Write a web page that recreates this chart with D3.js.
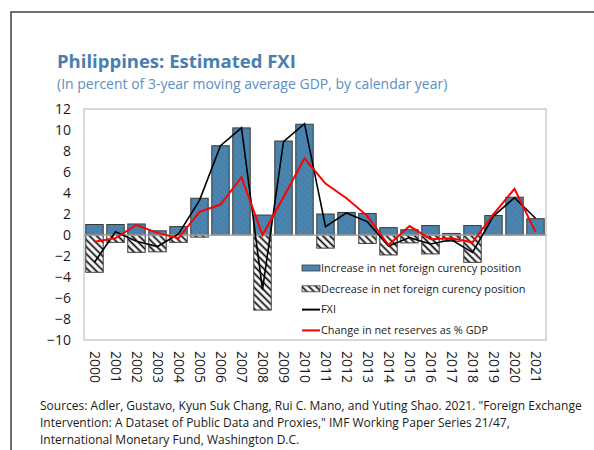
<!DOCTYPE html>
<html>
<head>
<meta charset="utf-8">
<script src="https://cdn.jsdelivr.net/npm/d3@7"></script>
<style>
  body { margin: 0; background: #fff; }
  svg { display: block; font-family: "Open Sans", "Noto Sans", sans-serif; }
</style>
</head>
<body>
<svg width="594" height="450"></svg>
<script>
// data
var years = ["2000","2001","2002","2003","2004","2005","2006","2007","2008","2009","2010",
             "2011","2012","2013","2014","2015","2016","2017","2018","2019","2020","2021"];
var increase = [1.0, 1.0, 1.05, 0.4, 0.8, 3.5, 8.5, 10.2, 1.9, 8.95, 10.55,
                2.0, 2.15, 2.05, 0.7, 0.5, 0.9, 0.15, 0.9, 1.85, 3.6, 1.55];
var decrease = [-3.55, -0.7, -1.65, -1.6, -0.7, -0.2, 0, 0, -7.15, 0, 0,
                -1.25, 0, -0.8, -1.9, -0.75, -1.8, -0.6, -2.6, 0, 0, 0];
var fxi = [-2.6, 0.3, -0.6, -1.1, 0.1, 3.3, 8.5, 10.2, -5.2, 8.9, 10.6,
           0.8, 2.1, 1.25, -1.05, -0.25, -0.85, -0.45, -1.65, 1.8, 3.55, 1.6];
var reserves = [-0.65, -0.3, 0.95, 0.2, -0.3, 2.2, 2.9, 5.5, 0.0, 3.6, 7.3,
                4.9, 3.5, 1.8, -0.95, 0.85, -0.4, -0.3, -0.7, 2.0, 4.4, 0.3];
var yTicks = [-10, -8, -6, -4, -2, 0, 2, 4, 6, 8, 10, 12];
var legendLabels = ["Increase in net foreign curency position",
                    "Decrease in net foreign curency position",
                    "FXI",
                    "Change in net reserves as % GDP"];

var svg = d3.select("svg");

// plot area
var plot = {left: 84, right: 546, top: 109, bottom: 340};

var x = d3.scaleBand().domain(years).range([plot.left, plot.right]).paddingInner(0.17).paddingOuter(0.085);
var y = d3.scaleLinear().domain([-10, 12]).range([plot.bottom, plot.top]);

// hatch pattern for the decrease bars
var defs = svg.append("defs");
defs.append("pattern")
    .attr("id", "hatch")
    .attr("patternUnits", "userSpaceOnUse")
    .attr("width", 5).attr("height", 5)
    .attr("patternTransform", "rotate(-45)")
  .call(function(p) {
    p.append("rect").attr("width", 5).attr("height", 5).attr("fill", "#fff");
    p.append("line").attr("x1", 1.5).attr("y1", 0).attr("x2", 1.5).attr("y2", 5)
      .attr("stroke", "#000").attr("stroke-width", 1.7);
  });
defs.append("pattern")
    .attr("id", "blue")
    .attr("patternUnits", "userSpaceOnUse")
    .attr("width", 4).attr("height", 4)
    .attr("patternTransform", "rotate(-45)")
  .call(function(p) {
    p.append("rect").attr("width", 4).attr("height", 4).attr("fill", "#4b86b0");
    p.append("line").attr("x1", 1).attr("y1", 0).attr("x2", 1).attr("y2", 4)
      .attr("stroke", "#4279a2").attr("stroke-width", 1);
  });

// outer frame
svg.append("path")
    .attr("d", "M594,12H11V450")
    .attr("fill", "none")
    .attr("stroke", "#404040")
    .attr("stroke-width", 1.5);

// titles
svg.append("text")
    .attr("x", 57).attr("y", 68)
    .style("font-size", "18.5px").style("font-weight", "bold")
    .attr("fill", "#4a7eb0")
    .text("Philippines: Estimated FXI");
svg.append("text")
    .attr("x", 57).attr("y", 89)
    .style("font-size", "14px")
    .attr("fill", "#5b8fc4")
    .text("(In percent of 3-year moving average GDP, by calendar year)");

// plot border
svg.append("rect")
    .attr("x", plot.left).attr("y", plot.top)
    .attr("width", plot.right - plot.left).attr("height", plot.bottom - plot.top)
    .attr("fill", "#fff").attr("stroke", "#bfbfbf").attr("stroke-width", 1.2);

// y axis labels
var yAxis = svg.append("g")
    .attr("transform", "translate(" + plot.left + ",0)")
    .call(d3.axisLeft(y).tickValues(yTicks).tickSize(0).tickPadding(13));
yAxis.select(".domain").remove();
yAxis.selectAll("text").style("font-size", "14px").attr("fill", "#1a1a1a")
    .style("font-family", "'Open Sans', sans-serif");

// bars
var bw = x.bandwidth();
svg.append("g").selectAll("rect")
    .data(years)
  .enter().append("rect")
    .attr("x", function(d) { return x(d); })
    .attr("width", bw)
    .attr("y", function(d, i) { return y(increase[i]); })
    .attr("height", function(d, i) { return y(0) - y(increase[i]); })
    .attr("fill", "url(#blue)")
    .attr("stroke", "#3a3a3a").attr("stroke-width", 1);

svg.append("g").selectAll("rect")
    .data(years.filter(function(d, i) { return decrease[i] < 0; }))
  .enter().append("rect")
    .attr("x", function(d) { return x(d); })
    .attr("width", bw)
    .attr("y", y(0))
    .attr("height", function(d) { return y(decrease[years.indexOf(d)]) - y(0); })
    .attr("fill", "url(#hatch)")
    .attr("stroke", "#3a3a3a").attr("stroke-width", 1);

// zero line
svg.append("line")
    .attr("x1", plot.left).attr("x2", plot.right)
    .attr("y1", y(0)).attr("y2", y(0))
    .attr("stroke", "#a6a6a6").attr("stroke-width", 1.5);

// lines
var cx = function(d, i) { return x(years[i]) + bw / 2; };
svg.append("path")
    .datum(fxi)
    .attr("fill", "none").attr("stroke", "#000").attr("stroke-width", 1.6)
    .attr("d", d3.line().x(cx).y(function(d) { return y(d); }));
svg.append("path")
    .datum(reserves)
    .attr("fill", "none").attr("stroke", "#ff0000").attr("stroke-width", 2)
    .attr("d", d3.line().x(cx).y(function(d) { return y(d); }));

// x labels, rotated
svg.append("g").selectAll("text")
    .data(years)
  .enter().append("text")
    .attr("transform", function(d) { return "translate(" + (x(d) + bw / 2) + ",351) rotate(90)"; })
    .attr("dy", "0.35em")
    .style("font-size", "14px")
    .attr("fill", "#1a1a1a")
    .text(function(d) { return d; });

// legend
var legend = svg.append("g").attr("transform", "translate(302,268)");
var rowH = 20.8;
legendLabels.forEach(function(label, i) {
  var g = legend.append("g").attr("transform", "translate(0," + (i * rowH) + ")");
  if (i === 0) {
    g.append("rect").attr("x", 0).attr("y", -3).attr("width", 18).attr("height", 6)
      .attr("fill", "#4b86b0").attr("stroke", "#3a3a3a").attr("stroke-width", 0.8);
  } else if (i === 1) {
    g.append("rect").attr("x", 0).attr("y", -3).attr("width", 18).attr("height", 6)
      .attr("fill", "url(#hatch)").attr("stroke", "#3a3a3a").attr("stroke-width", 0.8);
  } else {
    g.append("line").attr("x1", 0).attr("x2", 18).attr("y1", 0).attr("y2", 0)
      .attr("stroke", i === 2 ? "#000" : "#ff0000").attr("stroke-width", 2);
  }
  g.append("text")
    .attr("x", 19).attr("y", 0).attr("dy", "0.35em")
    .style("font-size", "10.9px").attr("fill", "#1a1a1a")
    .text(label);
});

// sources
var sources = ["Sources: Adler, Gustavo, Kyun Suk Chang, Rui C. Mano, and Yuting Shao. 2021. \"Foreign Exchange",
               "Intervention: A Dataset of Public Data and Proxies,\" IMF Working Paper Series 21/47,",
               "International Monetary Fund, Washington D.C."];
svg.append("g").selectAll("text")
    .data(sources)
  .enter().append("text")
    .attr("x", 40)
    .attr("y", function(d, i) { return 410 + i * 17; })
    .style("font-size", "12px").attr("fill", "#1a1a1a")
    .text(function(d) { return d; });
</script>
</body>
</html>
